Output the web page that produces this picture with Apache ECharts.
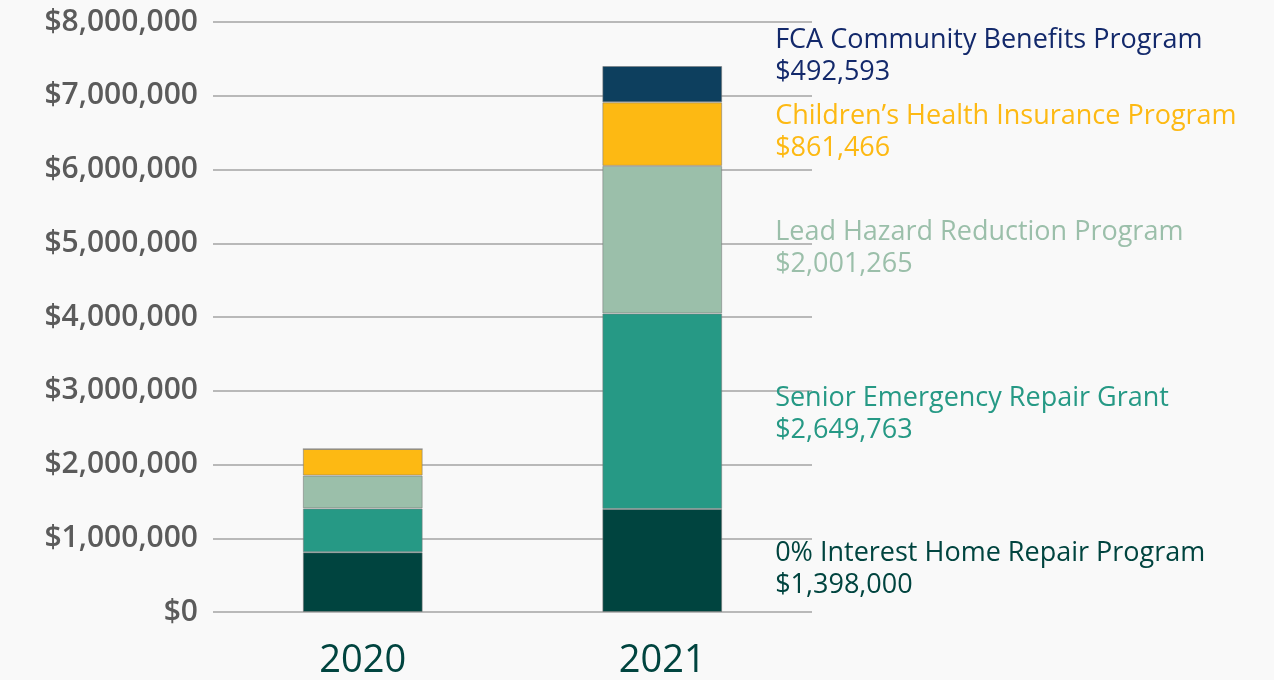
<!DOCTYPE html>
<html>
<head>
<meta charset="utf-8">
<script src="https://cdn.jsdelivr.net/npm/echarts@6/dist/echarts.min.js"></script>
<style>
    html, body { margin: 0; padding: 0; background: #f9f9f9; }
    #chart { width: 1274px; height: 680px; }
</style>
</head>
<body>
<div id="chart"></div>
<script>
const years = ['2020', '2021'];

const homeRepair = [810000, 1398000];
const seniorGrant = [595000, 2649763];
const leadHazard = [445000, 2001265];
const childrenHealth = [360000, 861466];
const fcaBenefits = [0, 492593];

const seriesNames = [
    '0% Interest Home Repair Program',
    'Senior Emergency Repair Grant',
    'Lead Hazard Reduction Program',
    'Children\u2019s Health Insurance Program',
    'FCA Community Benefits Program'
];
const seriesColors = ['#00443f', '#269985', '#9bbfaa', '#fdb913', '#0d3f5e'];
const labelColors = ['#00443f', '#269985', '#9bbfaa', '#fdb913', '#13296b'];
// nudge each label so it sits where the original put it
const labelOffsets = [9, 3, 9, -2, -28];

const yMin = 0;
const yMax = 8000000;
const yStep = 1000000;

const chart = echarts.init(document.getElementById('chart'));

function money(v) {
    return '$' + Number(v).toLocaleString('en-US');
}

function buildSeries(values, idx) {
    return {
        name: seriesNames[idx],
        type: 'bar',
        stack: 'total',
        barWidth: '40%',
        itemStyle: {
            color: seriesColors[idx],
            borderColor: 'rgba(120,120,120,0.55)',
            borderWidth: 1
        },
        data: values.map((v, i) => ({
            value: v,
            label: {
                show: i === 1,
                position: 'right',
                distance: 53,
                offset: [0, labelOffsets[idx]],
                align: 'left',
                color: labelColors[idx],
                fontFamily: 'Open Sans',
                fontSize: 27,
                lineHeight: 32,
                formatter: (p) => seriesNames[idx] + '\n' + money(p.value)
            }
        }))
    };
}

chart.setOption({
    backgroundColor: '#f9f9f9',
    animation: false,
    grid: { left: 213, right: 462, top: 22, bottom: 65 },
    xAxis: {
        type: 'category',
        data: years,
        axisLine: { show: false },
        axisTick: { show: false },
        axisLabel: {
            color: '#00443f',
            fontFamily: 'Open Sans',
            fontSize: 38,
            margin: 30
        }
    },
    yAxis: {
        type: 'value',
        min: yMin,
        max: yMax,
        interval: yStep,
        axisLine: { show: false },
        axisTick: { show: false },
        splitLine: { lineStyle: { color: '#b9b9b9', width: 2 } },
        axisLabel: {
            color: '#5b5b5b',
            fontFamily: 'Open Sans',
            fontWeight: 600,
            fontSize: 30,
            margin: 15,
            formatter: (v) => money(v)
        }
    },
    series: [
        buildSeries(homeRepair, 0),
        buildSeries(seniorGrant, 1),
        buildSeries(leadHazard, 2),
        buildSeries(childrenHealth, 3),
        buildSeries(fcaBenefits, 4)
    ]
});
</script>
</body>
</html>
